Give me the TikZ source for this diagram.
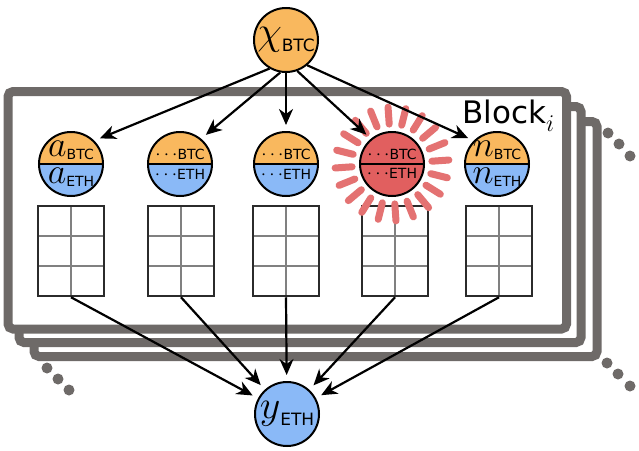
\RequirePackage{fix-cm}
\documentclass[tikz,border=0pt]{standalone}
\usepackage{fontspec}
\setmainfont{DejaVu Sans}
\usetikzlibrary{arrows.meta,calc}

\definecolor{btcorange}{HTML}{F9B85E}
\definecolor{ethblue}{HTML}{8AB9F7}
\definecolor{alertred}{HTML}{E15F5F}
\definecolor{framegray}{HTML}{6E6A68}
\definecolor{tabledark}{HTML}{2B2B2B}
\definecolor{tablegrid}{HTML}{808080}

% variable with a currency subscript
\newcommand{\bigsub}[2]{{\fontsize{40}{40}\selectfont$#1$}\raisebox{-7pt}{\fontsize{17}{17}\selectfont #2}}
\newcommand{\smallsub}[2]{{\fontsize{36}{36}\selectfont$#1$}\raisebox{-3pt}{\fontsize{14}{14}\selectfont #2}}
\newcommand{\dotsub}[1]{{\fontsize{19}{19}\selectfont$\cdots$}{\fontsize{14}{14}\selectfont #1}}

\begin{document}
\begin{tikzpicture}[x=1pt, y=-1pt,
    frame/.style={draw=framegray, line width=9pt, rounded corners=5pt, fill=white},
    bigvar/.style={circle, draw, line width=2pt, minimum size=64pt, inner sep=0pt},
    splitvar/.style={bigvar, path picture={
        \fill[btcorange] (path picture bounding box.north west) rectangle (path picture bounding box.east);
        \fill[ethblue] (path picture bounding box.west) rectangle (path picture bounding box.south east);
        \draw[line width=2pt] (path picture bounding box.west) -- (path picture bounding box.east);}},
    alertvar/.style={bigvar, fill=alertred, path picture={
        \draw[line width=2pt] (path picture bounding box.west) -- (path picture bounding box.east);}},
    lbl/.style={inner sep=0pt},
    datatable/.style={draw=tabledark, line width=2.5pt, fill=white, minimum width=66pt, minimum height=90pt, inner sep=0pt,
      path picture={
        \draw[tablegrid, line width=2pt] (path picture bounding box.north) -- (path picture bounding box.south);
        \draw[tablegrid, line width=2pt] ($(path picture bounding box.north west)!1/3!(path picture bounding box.south west)$) -- ($(path picture bounding box.north east)!1/3!(path picture bounding box.south east)$);
        \draw[tablegrid, line width=2pt] ($(path picture bounding box.north west)!2/3!(path picture bounding box.south west)$) -- ($(path picture bounding box.north east)!2/3!(path picture bounding box.south east)$);}},
    ray/.style={alertred!88!white, line width=7pt, line cap=round},
    edge/.style={-{Stealth[length=16pt, width=14pt, inset=5pt]}, line width=2.2pt, shorten >=6pt}
  ]
  \useasboundingbox (0,0) rectangle (639,450);

  % stacked blocks
  \draw[frame] (34,121.5) rectangle (597,356.5);
  \draw[frame] (19,106.5) rectangle (581,342.5);
  \draw[frame] (8,91.5) rectangle (566.5,329);
  \fill[framegray] (47,368) circle (5.5) (58,379) circle (5.5) (69,390) circle (5.5);
  \fill[framegray] (608,133) circle (5.5) (619,144) circle (5.5) (630,156) circle (5.5);
  \fill[framegray] (607,363) circle (5.5) (618,374) circle (5.5) (630,386) circle (5.5);
  \node[anchor=base west, inner sep=0pt] (blk) at (462,123) {\fontsize{31}{31}\selectfont Block\raisebox{-8pt}{\fontsize{24}{24}\selectfont$i$}};

  % input and output
  \node[bigvar, fill=btcorange] (x) at (286,40) {\bigsub{\chi}{BTC}};
  \node[bigvar, fill=ethblue] (y) at (287,414) {\bigsub{y}{ETH}};

  % per-block variables
  \node[splitvar] (a) at (71,164) {};
  \node[splitvar] (b) at (180,164) {};
  \node[splitvar] (c) at (286,164) {};
  \node[alertvar] (d) at (392,164) {};
  \node[splitvar] (n) at (497,164) {};
  \node[lbl] (a-btc) at ([yshift=14pt]a.center) {\smallsub{a}{BTC}};
  \node[lbl] (a-eth) at ([yshift=-13pt]a.center) {\smallsub{a}{ETH}};
  \node[lbl] (b-btc) at ([yshift=10pt]b.center) {\dotsub{BTC}};
  \node[lbl] (b-eth) at ([yshift=-10pt]b.center) {\dotsub{ETH}};
  \node[lbl] (c-btc) at ([yshift=10pt]c.center) {\dotsub{BTC}};
  \node[lbl] (c-eth) at ([yshift=-10pt]c.center) {\dotsub{ETH}};
  \node[lbl] (d-btc) at ([yshift=10pt]d.center) {\dotsub{BTC}};
  \node[lbl] (d-eth) at ([yshift=-9pt]d.center) {\dotsub{ETH}};
  \node[lbl] (n-btc) at ([yshift=14pt]n.center) {\smallsub{n}{BTC}};
  \node[lbl] (n-eth) at ([yshift=-13pt]n.center) {\smallsub{n}{ETH}};

  % tables
  \node[datatable] (ta) at (71,251) {};
  \node[datatable] (tb) at (181,251) {};
  \node[datatable] (tc) at (286,251) {};
  \node[datatable] (td) at (395,251) {};
  \node[datatable] (tn) at (499,251) {};

  % highlight
  \foreach \ang in {14,32,...,356}
    \draw[ray] ($(d)+(\ang:40)$) -- ($(d)+(\ang:57)$);

  % edges
  \draw[edge] (x.240) -- (a.45);
  \draw[edge] (x.260) -- (b.50);
  \draw[edge] (x.south) -- (c.north);
  \draw[edge] (x.290) -- (d.130);
  \draw[edge] (x.310) -- (n.135);
  \draw[edge] (ta.south) -- (y);
  \draw[edge] (tb.south) -- (y);
  \draw[edge] (tc.south) -- (y);
  \draw[edge] (td.south) -- (y);
  \draw[edge] (tn.south) -- (y);
\end{tikzpicture}
\end{document}
